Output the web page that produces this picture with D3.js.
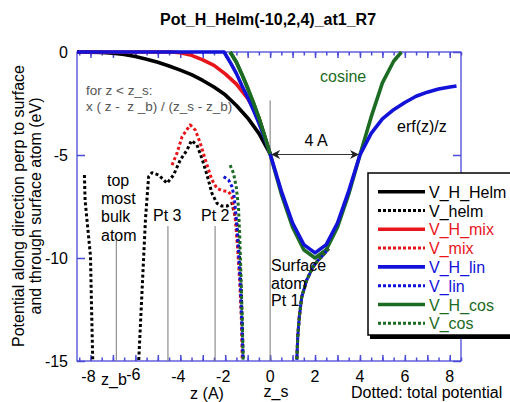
<!DOCTYPE html>
<html>
<head>
<meta charset="utf-8">
<script src="https://cdn.jsdelivr.net/npm/d3@7"></script>
<style>
  body { margin: 0; background: #fff; }
  svg { font-family: "Liberation Sans", Arial, sans-serif; }
  text { white-space: pre; }
</style>
</head>
<body>
<script>
// Potential along the surface normal, H atom near a Pt surface

var w = 510;
var h = 402;

// Solid curves: V_H_* (eV) against z (A)
var zHelm = [-8.6, -7.5, -7, -6.5, -6, -5.5, -5, -4.5, -4, -3.5, -3, -2.5, -2, -1.5, -1, -0.5, 0];
var vHelm = [0, -0.02, -0.06, -0.12, -0.22, -0.35, -0.5, -0.68, -0.88, -1.1, -1.38, -1.7, -2.08, -2.6, -3.2, -3.95, -4.95];

var zMix = [-8.6, -4.4, -4, -3.5, -3, -2.5, -2, -1.5, -1, -0.5, 0];
var vMix = [0, 0, -0.04, -0.16, -0.38, -0.65, -1.06, -1.56, -2.25, -3.2, -4.95];

var zLin = [-8.6, -2.05, -1.75, -1.5, -1.25, -1, -0.75, -0.5, -0.25, 0, 0.5, 1, 1.5, 2, 2.5, 3, 3.5, 4, 4.5, 5, 5.5, 6, 6.5, 7, 7.5, 8, 8.3];
var vLin = [0, 0, -0.55, -1.05, -1.65, -2.2, -2.8, -3.45, -4.15, -4.95, -6.75, -8.3, -9.35, -9.75, -9.35, -8.3, -6.75, -5, -3.95, -3.25, -2.8, -2.45, -2.15, -1.95, -1.8, -1.7, -1.65];

var zCos = [-1.78, -1.5, -1.25, -1, -0.75, -0.5, -0.25, 0, 0.5, 1, 1.5, 2, 2.5, 3, 3.5, 4, 4.5, 5, 5.5, 5.85];
var vCos = [0, -0.5, -1.1, -1.75, -2.45, -3.2, -4.05, -4.95, -6.9, -8.5, -9.6, -10, -9.6, -8.5, -6.9, -5, -3.15, -1.5, -0.45, 0];

// Dotted curves: total potential V_*
var zHelmDotA = [-8.27, -8.24, -8.0, -7.95, -7.9];
var vHelmDotA = [-5.97, -7.2, -9.9, -12.5, -14.95];

var zHelmDot = [-5.85, -5.55, -5.41, -5.26, -4.96, -4.59, -4.3, -4.0, -3.7, -3.5, -3.26, -3.04, -2.81, -2.59, -2.37, -2.15, -1.92, -1.7, -1.63, -1.48, -1.37, -1.29, -1.24, -1.2];
var vHelmDot = [-14.95, -8.1, -6.05, -5.86, -5.97, -6.37, -5.97, -5.24, -4.76, -4.3, -4.51, -5.16, -5.97, -6.86, -7.34, -7.48, -7.48, -7.34, -7.67, -8.3, -9.9, -11.5, -13.2, -14.95];

var zMixDot = [-4.37, -4.15, -3.92, -3.56, -3.33, -3.11, -2.81, -2.59, -2.37, -2.15, -1.85, -1.7, -1.56, -1.45, -1.35, -1.28, -1.24];
var vMixDot = [-5.49, -4.92, -4.11, -3.54, -3.79, -4.43, -5.49, -6.21, -6.62, -6.73, -6.78, -7.02, -8.0, -9.5, -11.2, -13.0, -14.95];

var zLinDot = [-2.07, -1.85, -1.7, -1.6, -1.5, -1.4, -1.32, -1.26, -1.21];
var vLinDot = [-6.05, -6.21, -6.54, -7.02, -8.2, -9.8, -11.5, -13.2, -14.95];

var zCosDot = [-1.78, -1.63, -1.51, -1.41, -1.35, -1.3, -1.25, -1.2];
var vCosDot = [-5.49, -5.89, -6.54, -7.51, -9.0, -10.8, -12.8, -14.95];

// branch falling into the surface atom (all dotted series)
var zSurfDot = [2.6, 2.37, 2.1, 1.9, 1.63, 1.41, 1.3, 1.23, 1.19];
var vSurfDot = [-9.55, -9.85, -10.15, -10.45, -11.07, -11.88, -12.85, -13.82, -14.95];

// Atom markers
var atomZ = [-6.85, -4.55, -2.45, 0];
var atomTop = [-9.1, -8.45, -8.45, -2.35];

var xTickLabels = [-8, -6, -4, -2, 0, 2, 4, 6, 8];
var yTickLabels = [0, -5, -10, -15];

var legendNames = ["V_H_Helm", "V_helm", "V_H_mix", "V_mix", "V_H_lin", "V_lin", "V_H_cos", "V_cos"];
var legendColors = ["#000000", "#000000", "#e8151b", "#e8151b", "#1212d8", "#1212d8", "#1c6b22", "#1c6b22"];

var axisColor = "#4b4bd8";

var x = d3.scaleLinear().domain([-8.6, 8.5]).range([77, 461]);
var y = d3.scaleLinear().domain([0, -15]).range([52, 361]);

var svg = d3.select("body").append("svg")
    .attr("width", w)
    .attr("height", h);

svg.append("defs").append("clipPath")
    .attr("id", "plotclip")
  .append("rect")
    .attr("x", 77).attr("y", 50)
    .attr("width", 384).attr("height", 311);

var defs = svg.select("defs");
defs.append("marker")
    .attr("id", "arrow")
    .attr("viewBox", "0 0 10 10")
    .attr("refX", 10).attr("refY", 5)
    .attr("markerWidth", 9).attr("markerHeight", 9)
    .attr("markerUnits", "userSpaceOnUse")
    .attr("orient", "auto-start-reverse")
  .append("path")
    .attr("d", "M0,0 L10,5 L0,10 L3,5 Z")
    .attr("fill", "#222");

// Title
svg.append("text")
    .attr("x", 268).attr("y", 25)
    .attr("text-anchor", "middle")
    .attr("font-size", 16)
    .attr("font-weight", "bold")
    .text("Pot_H_Helm(-10,2,4)_at1_R7");

// Y axis title
svg.append("text")
    .attr("transform", "translate(24,206) rotate(-90)")
    .attr("text-anchor", "middle")
    .attr("font-size", 16)
    .text("Potential along direction perp to surface");
svg.append("text")
    .attr("transform", "translate(41,206) rotate(-90)")
    .attr("text-anchor", "middle")
    .attr("font-size", 16)
    .text("and through surface atom (eV)");

// Frame + ticks
var gAxes = svg.append("g");

function styleAxis(g) {
    g.select(".domain").remove();
    g.selectAll("line").attr("stroke", axisColor).attr("stroke-width", 1.5);
}

var minorTicks = d3.range(-8.5, 8.51, 0.5);
var majorTicks = d3.range(-8, 8.01, 1);

gAxes.append("g")
    .attr("transform", "translate(0,361)")
    .call(d3.axisBottom(x).tickValues(minorTicks).tickSize(-3.5).tickFormat(""))
    .call(styleAxis);
gAxes.append("g")
    .attr("transform", "translate(0,361)")
    .call(d3.axisBottom(x).tickValues(majorTicks).tickSize(-6).tickFormat(""))
    .call(styleAxis);
gAxes.append("g")
    .attr("transform", "translate(0,52)")
    .call(d3.axisTop(x).tickValues(minorTicks).tickSize(-3.5).tickFormat(""))
    .call(styleAxis);
gAxes.append("g")
    .attr("transform", "translate(0,52)")
    .call(d3.axisTop(x).tickValues(majorTicks).tickSize(-6).tickFormat(""))
    .call(styleAxis);
gAxes.append("g")
    .attr("transform", "translate(77,0)")
    .call(d3.axisLeft(y).tickValues(yTickLabels).tickSize(-8).tickFormat(""))
    .call(styleAxis);
gAxes.append("g")
    .attr("transform", "translate(461,0)")
    .call(d3.axisRight(y).tickValues(yTickLabels).tickSize(-8).tickFormat(""))
    .call(styleAxis);

gAxes.append("rect")
    .attr("x", 77).attr("y", 52)
    .attr("width", 384).attr("height", 309)
    .attr("fill", "none")
    .attr("stroke", axisColor)
    .attr("stroke-width", 1.3);

// Tick labels
svg.append("g").selectAll("text")
    .data(xTickLabels)
    .enter()
    .append("text")
    .attr("x", function(d) { return x(d) - (d < 0 ? 2 : 0); })
    .attr("y", function(d) { return d == -6 ? 380 : 382; })
    .attr("text-anchor", "middle")
    .attr("font-size", 16)
    .text(function(d) { return d; });

svg.append("g").selectAll("text")
    .data(yTickLabels)
    .enter()
    .append("text")
    .attr("x", 68)
    .attr("y", function(d) { return y(d) + 6; })
    .attr("text-anchor", "end")
    .attr("font-size", 16)
    .text(function(d) { return d; });

svg.append("text").attr("x", 207).attr("y", 399).attr("text-anchor", "middle")
    .attr("font-size", 16).text("z (A)");
svg.append("text").attr("x", 114).attr("y", 385).attr("text-anchor", "middle")
    .attr("font-size", 16).text("z_b");
svg.append("text").attr("x", 276).attr("y", 397).attr("text-anchor", "middle")
    .attr("font-size", 16).text("z_s");
svg.append("text").attr("x", 351).attr("y", 398)
    .attr("font-size", 16).text("Dotted: total potential");

// Atom lines
var plot = svg.append("g").attr("clip-path", "url(#plotclip)");

plot.selectAll("line.atom")
    .data(atomZ)
    .enter()
    .append("line")
    .attr("class", "atom")
    .attr("x1", function(d) { return x(d); })
    .attr("x2", function(d) { return x(d); })
    .attr("y1", function(d, i) { return y(atomTop[i]); })
    .attr("y2", y(-15))
    .attr("stroke", "#777")
    .attr("stroke-width", 1);

// Annotations
svg.append("text").attr("x", 86).attr("y", 95).attr("font-size", 13.5).attr("fill", "#555")
    .text("for z < z_s:");
svg.append("text").attr("x", 86).attr("y", 111).attr("font-size", 13.5).attr("fill", "#555")
    .text("x ( z -  z _b) / (z_s - z_b)");
svg.append("text").attr("x", 320).attr("y", 82).attr("font-size", 16).attr("fill", "#1c6b22")
    .text("cosine");
svg.append("text").attr("x", 397).attr("y", 132).attr("font-size", 16)
    .text("erf(z)/z");
svg.append("text").attr("x", 316).attr("y", 146).attr("text-anchor", "middle").attr("font-size", 16)
    .text("4 A");
svg.append("line")
    .attr("x1", x(0) + 1).attr("x2", x(4) - 1)
    .attr("y1", 154.5).attr("y2", 154.5)
    .attr("stroke", "#333").attr("stroke-width", 1)
    .attr("marker-start", "url(#arrow)")
    .attr("marker-end", "url(#arrow)");

var bulkText = ["top", "most", "bulk", "atom"];
svg.append("g").selectAll("text")
    .data(bulkText)
    .enter()
    .append("text")
    .attr("x", function(d, i) { return i == 0 ? 107 : 101; })
    .attr("y", function(d, i) { return 186 + i * 18.2; })
    .attr("font-size", 16)
    .text(function(d) { return d; });

svg.append("text").attr("x", 153).attr("y", 221).attr("font-size", 16).text("Pt 3");
svg.append("text").attr("x", 201).attr("y", 221).attr("font-size", 16).text("Pt 2");

var surfText = ["Surface", "atom", "Pt 1"];
svg.append("g").selectAll("text")
    .data(surfText)
    .enter()
    .append("text")
    .attr("x", 271)
    .attr("y", function(d, i) { return 271 + i * 17.5; })
    .attr("font-size", 16)
    .text(function(d) { return d; });

// Curves
var line = d3.line()
    .x(function(d) { return x(d[0]); })
    .y(function(d) { return y(d[1]); });

function drawCurve(zs, vs, color, dotted, offset) {
    var pts = zs.map(function(z, i) { return [z, vs[i]]; });
    var p = plot.append("path")
        .datum(pts)
        .attr("d", line)
        .attr("fill", "none")
        .attr("stroke", color)
        .attr("stroke-linejoin", "round");
    if (dotted) {
        p.attr("stroke-width", 3)
         .attr("stroke-dasharray", "3,2.5")
         .attr("stroke-dashoffset", offset || 0);
    } else {
        p.attr("stroke-width", 3.6);
    }
}

drawCurve(zHelm, vHelm, legendColors[0], false);
drawCurve(zMix, vMix, legendColors[2], false);
drawCurve(zCos, vCos, legendColors[6], false);
drawCurve(zLin, vLin, legendColors[4], false);
// cosine drawn again for the part where it lies on top in the picture
drawCurve(zCos.slice(0, 8), vCos.slice(0, 8), legendColors[6], false);

drawCurve(zHelmDotA, vHelmDotA, legendColors[1], true);
drawCurve(zHelmDot, vHelmDot, legendColors[1], true);
drawCurve(zMixDot, vMixDot, legendColors[3], true);
drawCurve(zLinDot, vLinDot, legendColors[5], true);
drawCurve(zCosDot, vCosDot, legendColors[7], true);

drawCurve(zSurfDot, vSurfDot, legendColors[1], true, 0);
drawCurve(zSurfDot, vSurfDot, legendColors[3], true, 1);
drawCurve(zSurfDot, vSurfDot, legendColors[5], true, 2.5);
drawCurve(zSurfDot, vSurfDot, legendColors[7], true, 0);

// Legend
var legend = svg.append("g").attr("transform", "translate(368,173)");
legend.append("rect")
    .attr("x", 2).attr("y", 3)
    .attr("width", 160).attr("height", 163)
    .attr("fill", "#000");
legend.append("rect")
    .attr("x", 0).attr("y", 0)
    .attr("width", 160).attr("height", 162)
    .attr("fill", "#fff")
    .attr("stroke", "#000")
    .attr("stroke-width", 1.5);

var rows = legend.selectAll("g.row")
    .data(legendNames)
    .enter()
    .append("g")
    .attr("class", "row")
    .attr("transform", function(d, i) { return "translate(0," + (18.7 + i * 18.8) + ")"; });

rows.append("line")
    .attr("x1", 10).attr("x2", 57)
    .attr("stroke", function(d, i) { return legendColors[i]; })
    .attr("stroke-width", function(d, i) { return i % 2 ? 3 : 3.6; })
    .attr("stroke-dasharray", function(d, i) { return i % 2 ? "3,2" : null; });

rows.append("text")
    .attr("x", 61)
    .attr("y", 6)
    .attr("font-size", 16)
    .attr("fill", function(d, i) { return legendColors[i]; })
    .text(function(d) { return d; });
</script>
</body>
</html>
